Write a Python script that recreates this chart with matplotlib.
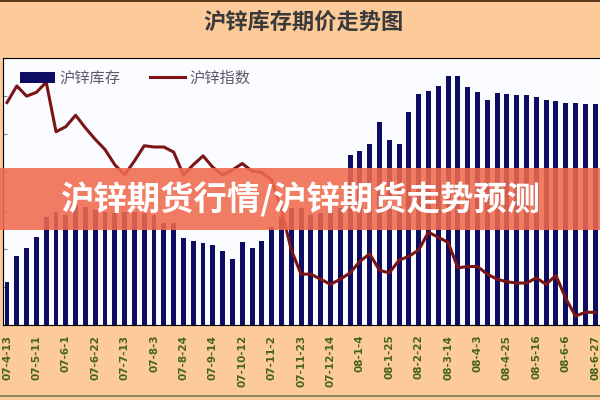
import matplotlib
matplotlib.use("Agg")
import matplotlib.pyplot as plt
from matplotlib.patches import Rectangle

plt.rcParams["font.family"] = ["Noto Sans CJK SC", "DejaVu Sans"]

TITLE = "沪锌库存期价走势图"
BANNER = "沪锌期货行情/沪锌期货走势预测"
SERIES_NAMES = ["沪锌库存", "沪锌指数"]

# weekly SHFE zinc stock (万吨)
stock = [
    2.26, 3.63, 4.05, 4.63, 5.68, 5.95, 5.79, 6.37, 6.21, 6.05,
    5.95, 5.89, 5.95, 5.95, 5.89, 5.79, 5.37, 5.37, 4.58, 4.42,
    4.32, 4.21, 3.89, 3.47, 4.37, 4.05, 4.42, 5.16, 5.68, 6.11,
    6.16, 5.79, 5.89, 5.95, 6.11, 8.89, 9.11, 9.47, 10.63, 9.68,
    9.47, 11.16, 12.11, 12.26, 12.53, 13.05, 13.05, 12.47, 12.21, 11.79,
    12.16, 12.11, 12.05, 12.05, 11.95, 11.79, 11.74, 11.63, 11.63, 11.58,
    11.58,
]

# weekly zinc index (千元/吨)
index = [
    31.5, 32.8, 32.0, 32.3, 33.1, 29.2, 29.6, 30.5, 29.5, 28.6,
    27.8, 26.6, 25.8, 26.9, 28.1, 28.0, 28.0, 27.6, 25.8, 26.6,
    27.3, 26.4, 25.8, 26.2, 26.7, 26.1, 26.0, 25.4, 23.1, 19.9,
    18.0, 18.0, 17.6, 17.2, 17.6, 18.1, 19.0, 19.6, 18.3, 18.1,
    19.1, 19.4, 19.9, 21.3, 20.9, 20.5, 18.5, 18.6, 18.6, 18.0,
    17.6, 17.4, 17.3, 17.3, 17.7, 17.2, 17.9, 16.1, 14.7, 15.0,
    15.0,
]

tick_labels = [
    "07-4-13", "07-5-11", "07-6-1", "07-6-22", "07-7-13", "07-8-3",
    "07-8-24", "07-9-14", "07-10-12", "07-11-2", "07-11-23", "07-12-14",
    "08-1-4", "08-1-25", "08-2-22", "08-3-14", "08-4-3", "08-4-25",
    "08-5-16", "08-6-6", "08-6-27",
]
TICK_STEP = 3

fig = plt.figure(figsize=(6, 4), dpi=100)
fig.patch.set_facecolor("#FDCB99")

ax = fig.add_axes([0.005, 0.1875, 0.995, 0.6675])
ax.set_facecolor("#FBFCFF")
x = list(range(len(stock)))
bars = ax.bar(x, stock, width=0.5, color="#0D0D62", zorder=2)
ax.set_xlim(-0.41, 60.5)
ax.set_ylim(0, 14)
ax.set_yticks(range(0, 15, 2))
ax.tick_params(axis="y", direction="in", length=3, color="#888888", labelleft=False)
ax.set_xticks(x[::TICK_STEP])
ax.set_xticklabels(tick_labels, rotation=90, fontsize=7.5, color="#46641C",
                   fontweight="bold", family="DejaVu Sans")
ax.tick_params(axis="x", length=0, pad=7)
for side in ["left", "top", "bottom"]:
    ax.spines[side].set_color("#A0A0A0")
ax.spines["right"].set_visible(False)

ax2 = ax.twinx()
line, = ax2.plot(x, index, color="#7B1515", lw=2.2, solid_joinstyle="round")
ax2.set_ylim(14, 35)
ax2.set_yticks([])
ax2.spines["right"].set_visible(False)

ax2.legend([bars, line], SERIES_NAMES, loc="upper left", bbox_to_anchor=(0.016, 0.985),
           ncol=2, frameon=False, fontsize=11, handlelength=2.3, handletextpad=0.3,
           columnspacing=1.9, borderpad=0, labelcolor="#5A5A6A")

fig.text(0.505, 0.945, TITLE, ha="center", va="center", fontsize=16,
         fontweight="bold", color="#3A3A3A")

# frame lines of the original picture
fig.add_artist(Rectangle((0, 0.994), 1, 0.006, transform=fig.transFigure,
                         facecolor="#5A3A1A", edgecolor="none"))
fig.add_artist(Rectangle((0, 0.008), 1, 0.004, transform=fig.transFigure,
                         facecolor="#8A8A5A", edgecolor="none"))

# overlay banner
fig.add_artist(Rectangle((0, 0.425), 1, 0.155, transform=fig.transFigure,
                         facecolor="#F06A4E", edgecolor="none", alpha=0.88, zorder=10))
fig.text(0.5, 0.5, BANNER, ha="center", va="center", color="white", fontsize=24,
         fontweight="bold", zorder=11)

fig.savefig("out.png", dpi=100, facecolor=fig.get_facecolor())
